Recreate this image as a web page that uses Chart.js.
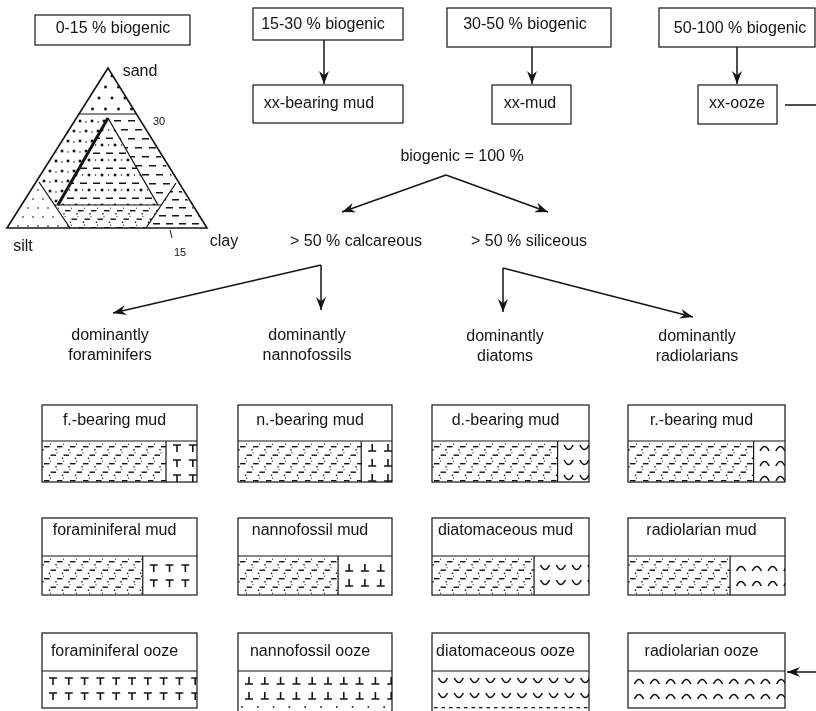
<!DOCTYPE html>
<html><head><meta charset="utf-8">
<script src="https://cdn.jsdelivr.net/npm/chart.js@4"></script>
<style>html,body{margin:0;padding:0;background:#fff}#wrap{width:816px;height:711px;position:relative}</style>
</head><body><div id="wrap"><canvas id="c"></canvas></div>
<script>
// ---------------- data ----------------
const biogenicClasses = ['0-15 % biogenic', '15-30 % biogenic', '30-50 % biogenic', '50-100 % biogenic'];
const sedimentClasses = ['xx-bearing mud', 'xx-mud', 'xx-ooze'];
const ternaryEndMembers = ['sand', 'silt', 'clay'];
const ternaryTicks = ['30', '15'];
const rootLabel = 'biogenic = 100 %';
const compositionClasses = ['> 50 % calcareous', '> 50 % siliceous'];
const groupPrefix = 'dominantly';
const dominantGroups = ['foraminifers', 'nannofossils', 'diatoms', 'radiolarians'];
const sedimentNames = [
  ['f.-bearing mud', 'foraminiferal mud', 'foraminiferal ooze'],
  ['n.-bearing mud', 'nannofossil mud', 'nannofossil ooze'],
  ['d.-bearing mud', 'diatomaceous mud', 'diatomaceous ooze'],
  ['r.-bearing mud', 'radiolarian mud', 'radiolarian ooze']
];
const groupSymbols = ['foram', 'nanno', 'diatom', 'radio'];
const biogenicShare = [20, 35, 100]; // biogenic part of each sediment column (%)

// ---------------- layout (positions in diagram units) ----------------
const layout = {
  topBoxes: [[35, 15, 190, 45], [253, 8, 403, 40], [447, 8, 611, 47], [659, 8, 815, 47]],
  topText: [[113, 29], [323, 25], [525, 25], [740, 29]],
  classBoxes: [[253, 85, 403, 123], [492, 85, 571, 124], [698, 85, 777, 124]],
  classText: [[319, 104], [530, 104], [737, 104]],
  root: [462, 157],
  comp: [[356, 242], [529, 242]],
  groupText: [[110, 336], [307, 336], [505, 337], [697, 337]],
  cols: [[42, 197], [238, 392], [432, 589], [628, 785]],
  rows: [[405, 441, 482], [518, 556, 595], [633, 671, 708]],
  rowTextDy: [16, 13, 19],
  symbolDy: [7, 12, 10],
  textDx: -5,
  oozeExtendCols: [1, 2],
  triLabels: [[140, 72], [23, 247], [224, 242]],
  triTickLabels: [[159, 122], [180, 253]]
};
const connectors = [
  { pts: [[324, 40], [324, 84]], arrow: true },
  { pts: [[532, 47], [532, 84]], arrow: true },
  { pts: [[737, 47], [737, 84]], arrow: true },
  { pts: [[785, 105], [820, 105]], arrow: false },
  { pts: [[820, 672], [787, 672]], arrow: true },
  { pts: [[446, 175], [342, 212]], arrow: true },
  { pts: [[446, 175], [548, 212]], arrow: true },
  { pts: [[321, 265], [321, 310]], arrow: true },
  { pts: [[321, 265], [113, 313]], arrow: true },
  { pts: [[503, 268], [503, 312]], arrow: true },
  { pts: [[503, 268], [693, 317]], arrow: true }
];
const tri = {
  outer: [[108, 68], [7, 228], [207, 228]],
  regions: {
    top: [[108, 68], [79, 114], [137, 114]],
    leftBand: [[79, 114], [108, 114], [108, 118], [58, 205], [55, 205], [39, 182]],
    rightBand: [[108, 114], [137, 114], [176, 183], [161, 205], [158, 205], [108, 118]],
    inner: [[108, 118], [58, 205], [158, 205]],
    bottom: [[55, 205], [161, 205], [146, 228], [70, 228]],
    leftCorner: [[39, 182], [70, 228], [7, 228]],
    rightCorner: [[176, 183], [207, 228], [146, 228]]
  },
  lines: [
    { p: [[79, 114], [137, 114]], w: 1.2 },
    { p: [[108, 118], [58, 205]], w: 3 },
    { p: [[108, 118], [158, 205]], w: 1.3 },
    { p: [[55, 205], [161, 205]], w: 1.2 },
    { p: [[39, 182], [70, 228]], w: 1.3 },
    { p: [[176, 183], [146, 228]], w: 1.3 },
    { p: [[170, 230], [172, 238]], w: 1 }
  ]
};

const INK = '#141414';
const FONT = '"Liberation Sans", Arial, Helvetica, sans-serif';

const diagramPlugin = {
  id: 'diagram',
  beforeDraw(chart) {
    const c = chart.ctx;
    c.save(); c.fillStyle = '#fff'; c.fillRect(0, 0, chart.width, chart.height); c.restore();
  },
  afterDatasetsDraw(chart) {
    const c = chart.ctx;
    const X = v => chart.scales.x.getPixelForValue(v);
    const Y = v => chart.scales.y.getPixelForValue(v);

    // arrowheads
    chart.data.datasets.forEach((ds, i) => {
      if (!ds.arrow) return;
      const pts = chart.getDatasetMeta(i).data;
      const a = pts[pts.length - 2], b = pts[pts.length - 1];
      const ang = Math.atan2(b.y - a.y, b.x - a.x);
      const len = 13, hw = 5;
      c.save(); c.translate(b.x, b.y); c.rotate(ang);
      c.fillStyle = INK; c.beginPath();
      c.moveTo(0, 0); c.lineTo(-len, -hw); c.lineTo(-len * 0.68, 0); c.lineTo(-len, hw); c.closePath(); c.fill();
      c.restore();
    });

    const text = (s, x, y, size, align) => {
      c.save(); c.fillStyle = INK; c.font = size + 'px ' + FONT;
      c.textAlign = align || 'center'; c.textBaseline = 'middle';
      c.fillText(s, X(x), Y(y)); c.restore();
    };
    const rect = (x1, y1, x2, y2, w) => {
      c.save(); c.strokeStyle = INK; c.lineWidth = w || 1.2;
      c.strokeRect(X(x1), Y(y1), X(x2) - X(x1), Y(y2) - Y(y1)); c.restore();
    };
    const line = (p, q, w) => {
      c.save(); c.strokeStyle = INK; c.lineWidth = w || 1.2; c.beginPath();
      c.moveTo(X(p[0]), Y(p[1])); c.lineTo(X(q[0]), Y(q[1])); c.stroke(); c.restore();
    };
    const polyPath = pts => {
      c.beginPath(); pts.forEach((p, i) => i ? c.lineTo(X(p[0]), Y(p[1])) : c.moveTo(X(p[0]), Y(p[1]))); c.closePath();
    };
    const withClipRect = (x1, y1, x2, y2, fn) => {
      c.save(); c.beginPath(); c.rect(X(x1), Y(y1), X(x2) - X(x1), Y(y2) - Y(y1)); c.clip(); fn(); c.restore();
    };
    const withClipPoly = (pts, fn) => { c.save(); polyPath(pts); c.clip(); fn(); c.restore(); };
    const dot = (x, y, s) => { c.fillStyle = INK; c.fillRect(X(x) - s / 2, Y(y) - s / 2, s, s); };
    const dash = (x, y, l, h) => { c.fillStyle = INK; c.fillRect(X(x), Y(y), l, h || 1.3); };

    // --- patterns ---
    const mudPattern = (x1, y1, x2, y2) => {
      let r = 0;
      for (let y = y1 + 5; y < y2 + 4; y += 8.5, r++) {
        const off = (r % 2) * 6.5;
        for (let x = x1 + 2 + off; x < x2 + 6; x += 13) {
          dash(x, y, 5.5, 1.4);
          dot(x - 1, y + 3.8, 1.4);
          dot(x + 6.5, y - 1.8, 1);
        }
      }
    };
    const symbol = (type, x, y) => {
      c.save(); c.strokeStyle = INK; c.lineWidth = 1.6; c.beginPath();
      const px = X(x), py = Y(y);
      if (type === 'foram') {
        c.moveTo(px - 4, py - 3); c.lineTo(px + 4, py - 3);
        c.moveTo(px, py - 3); c.lineTo(px, py + 4);
      } else if (type === 'nanno') {
        c.moveTo(px - 4, py + 3); c.lineTo(px + 4, py + 3);
        c.moveTo(px, py + 3); c.lineTo(px, py - 4);
      } else if (type === 'diatom') {
        c.moveTo(px - 4.5, py - 3); c.quadraticCurveTo(px, py + 6, px + 4.5, py - 3);
      } else {
        c.moveTo(px - 4.5, py + 3); c.quadraticCurveTo(px, py - 6, px + 4.5, py + 3);
      }
      c.stroke(); c.restore();
    };
    const symbolPattern = (type, x1, y1, x2, y2, dy) => {
      for (let y = y1 + dy; y < y2 + 1; y += 15) {
        for (let x = x1 + 11; x < x2 + 4; x += 15.8) symbol(type, x, y);
      }
    };

    // --- top boxes ---
    layout.topBoxes.forEach((b, i) => { rect(b[0], b[1], b[2], b[3]); text(biogenicClasses[i], layout.topText[i][0], layout.topText[i][1], 16); });
    layout.classBoxes.forEach((b, i) => { rect(b[0], b[1], b[2], b[3]); text(sedimentClasses[i], layout.classText[i][0], layout.classText[i][1], 16); });

    // --- ternary diagram ---
    const R = tri.regions;
    withClipPoly(R.top, () => {
      let r = 0;
      for (let y = 76; y < 116; y += 11, r++) for (let x = 60 + (r % 2) * 6.5; x < 150; x += 13) dot(x, y, 2.6);
    });
    withClipPoly(R.leftBand, () => {
      let r = 0;
      for (let y = 121; y < 206; y += 10, r++) for (let x = 20 + (r % 2) * 6; x < 120; x += 12) { dot(x, y, 2.6); dot(x + 6, y + 1, 1.3); }
    });
    withClipPoly(R.rightBand, () => {
      let r = 0;
      for (let y = 120; y < 206; y += 9, r++) for (let x = 100 + (r % 2) * 7; x < 190; x += 14) dash(x, y, 7, 1.5);
    });
    withClipPoly(R.inner, () => {
      let r = 0;
      for (let y = 130; y < 206; y += 7.5, r++) {
        if (r % 2 === 0) { for (let x = 50; x < 170; x += 13) { dot(x, y, 2.6); dot(x + 6.5, y, 1.3); } }
        else { for (let x = 54; x < 170; x += 13) dash(x, y, 7, 1.5); }
      }
    });
    withClipPoly(R.bottom, () => mudPattern(50, 205, 170, 228));
    withClipPoly(R.leftCorner, () => {
      let r = 0;
      for (let y = 190; y < 228; y += 9, r++) for (let x = 8 + (r % 2) * 5; x < 72; x += 10) dot(x, y, 1.4);
    });
    withClipPoly(R.rightCorner, () => {
      let r = 0;
      for (let y = 191; y < 228; y += 8, r++) for (let x = 140 + (r % 2) * 6; x < 210; x += 13) dash(x, y, 7, 1.5);
    });
    c.save(); c.strokeStyle = INK; c.lineWidth = 1.6; c.lineJoin = 'miter'; polyPath(tri.outer); c.stroke(); c.restore();
    tri.lines.forEach(l => line(l.p[0], l.p[1], l.w));
    ternaryEndMembers.forEach((s, i) => text(s, layout.triLabels[i][0], layout.triLabels[i][1], 16));
    ternaryTicks.forEach((s, i) => text(s, layout.triTickLabels[i][0], layout.triTickLabels[i][1], 11));

    // --- tree labels ---
    text(rootLabel, layout.root[0], layout.root[1], 16);
    compositionClasses.forEach((s, i) => text(s, layout.comp[i][0], layout.comp[i][1], 16));
    dominantGroups.forEach((g, i) => {
      text(groupPrefix, layout.groupText[i][0], layout.groupText[i][1], 16);
      text(g, layout.groupText[i][0], layout.groupText[i][1] + 20, 16);
    });

    // --- sediment columns ---
    sedimentNames.forEach((names, ci) => {
      const [x1, x2] = layout.cols[ci];
      names.forEach((name, ri) => {
        let [top, div, bot] = layout.rows[ri];
        const extend = ri === 2 && layout.oozeExtendCols.includes(ci);
        const share = biogenicShare[ri];
        const vx = x2 - (x2 - x1) * share / 100;
        if (share < 100) withClipRect(x1, div, vx, bot, () => mudPattern(x1, div, vx, bot));
        withClipRect(vx, div, x2, bot, () => symbolPattern(groupSymbols[ci], vx, div, x2, bot - (ri === 2 ? 5 : 0), layout.symbolDy[ri]));
        if (extend) {
          withClipRect(x1, div, x2, 716, () => {
            if (ci === 1) { for (let x = x1 + 4; x < x2; x += 15.8) dot(x, 707, 1.6); }
            else { for (let x = x1 + 2; x < x2; x += 7.5) dash(x, 707, 3.5, 1.3); }
          });
          bot = 716;
        }
        rect(x1, top, x2, bot);
        line([x1, div], [x2, div], 1.2);
        if (share < 100) line([vx, div], [vx, bot], 1.2);
        text(name, (x1 + x2) / 2 + layout.textDx, top + layout.rowTextDy[ri], 16);
      });
    });
  }
};

new Chart(document.getElementById('c'), {
  type: 'scatter',
  data: {
    datasets: connectors.map(cn => ({
      data: cn.pts.map(p => ({ x: p[0], y: p[1] })),
      showLine: true, borderColor: INK, borderWidth: 1.5, pointRadius: 0, tension: 0,
      arrow: cn.arrow, clip: false
    }))
  },
  options: {
    responsive: true, maintainAspectRatio: false, animation: false, events: [],
    layout: { padding: 0 },
    scales: {
      x: { type: 'linear', min: 0, max: 816, display: false },
      y: { type: 'linear', min: 0, max: 711, reverse: true, display: false }
    },
    plugins: { legend: { display: false }, tooltip: { enabled: false } }
  },
  plugins: [diagramPlugin]
});
</script></body></html>
